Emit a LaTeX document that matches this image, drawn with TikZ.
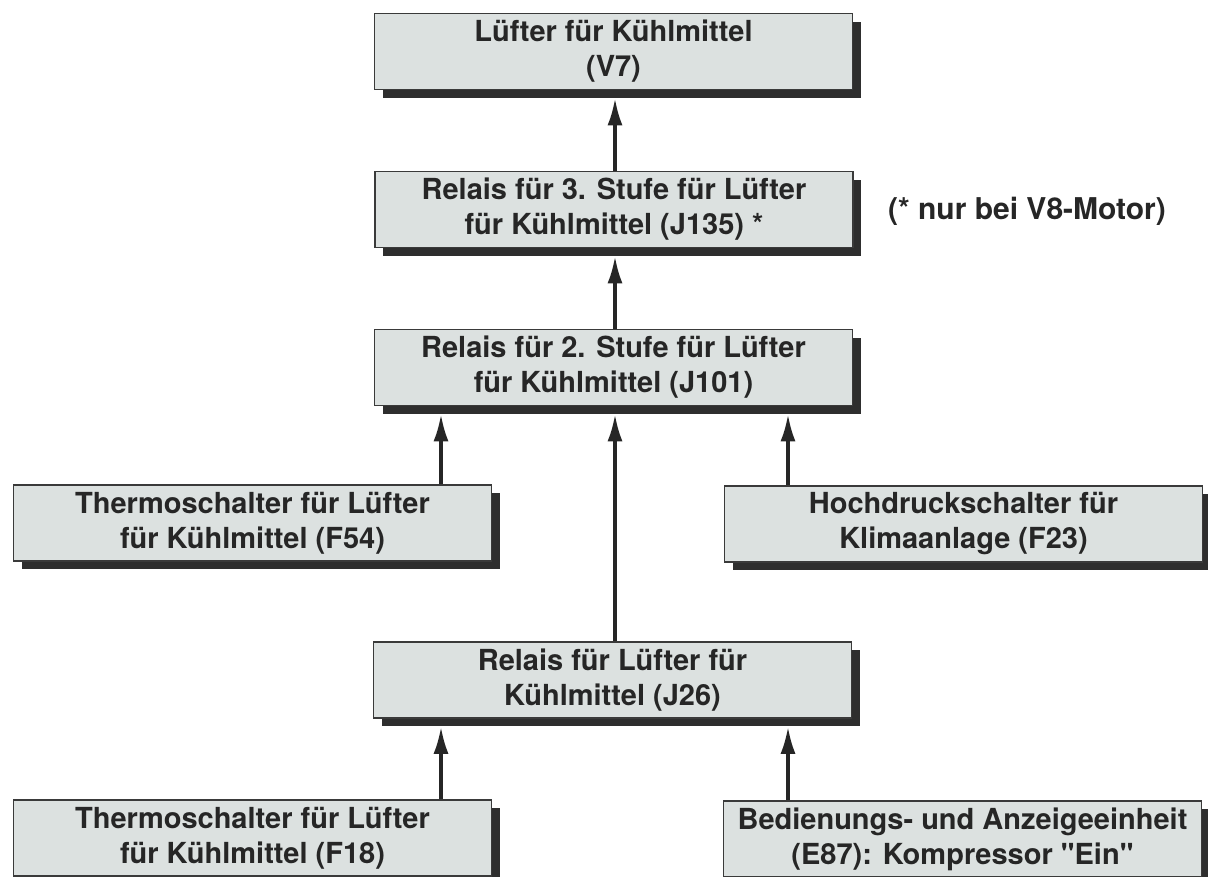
\documentclass[tikz,border=0pt]{standalone}
\usepackage{fontspec}
\setmainfont{TeX Gyre Heros}[Ligatures=TeXOff]
\usetikzlibrary{arrows.meta,shadows,calc}
\definecolor{boxfill}{HTML}{DCE1E0}
\definecolor{boxline}{HTML}{3A3A3A}
\definecolor{shadowc}{HTML}{2E2E2E}
\definecolor{txt}{HTML}{262626}
\tikzset{
  blk/.style={draw=boxline, line width=1.6pt, fill=boxfill,
    minimum width=478pt, minimum height=76pt, inner sep=0pt,
    align=center, text=txt,
    font=\fontsize{29}{35}\selectfont\bfseries,
    drop shadow={shadow xshift=8pt, shadow yshift=-8pt, fill=shadowc, opacity=1}},
  arr/.style={draw=txt, line width=3.2pt, -{Latex[length=27pt,width=15pt]}},
  note/.style={text=txt, font=\fontsize{30}{35}\selectfont\bfseries, inner sep=0pt}
}
\begin{document}
\begin{tikzpicture}[x=1pt,y=-1pt]
\useasboundingbox (0,0) rectangle (1208,876);
\node[blk] (v7)   at (613.5,51.5) {Lüfter für Kühlmittel\\(V7)};
\node[blk] (j135) at (614,209.5) {Relais für 3. Stufe für Lüfter\\für Kühlmittel (J135) *};
\node[blk] (j101) at (613.5,367.5) {Relais für 2. Stufe für Lüfter\\für Kühlmittel (J101)};
\node[blk] (f54)  at (252.5,523) {Thermoschalter für Lüfter\\für Kühlmittel (F54)};
\node[blk] (f23)  at (963.5,524) {Hochdruckschalter für\\Klimaanlage (F23)};
\node[blk] (j26)  at (612.5,680) {Relais für Lüfter für\\Kühlmittel (J26)};
\node[blk] (f18)  at (252.5,838) {Thermoschalter für Lüfter\\für Kühlmittel (F18)};
\node[blk] (e87)  at (962.5,839) {Bedienungs- und Anzeigeeinheit\\(E87): Kompressor "Ein"};
\node[note] (fn) at (1027,211) {(* nur bei V8-Motor)};
\coordinate (xl) at (441,0);
\coordinate (xm) at (615,0);
\coordinate (xr) at (788,0);
\draw[arr] (j135.north -| xm) -- ($(v7.south -| xm)+(0,8)$);
\draw[arr] (j101.north -| xm) -- ($(j135.south -| xm)+(0,8)$);
\draw[arr] (f54.north -| xl) -- ($(j101.south -| xl)+(0,8)$);
\draw[arr] (j26.north -| xm) -- ($(j101.south -| xm)+(0,8)$);
\draw[arr] (f23.north -| xr) -- ($(j101.south -| xr)+(0,8)$);
\draw[arr] (f18.north -| xl) -- ($(j26.south -| xl)+(0,8)$);
\draw[arr] (e87.north -| xr) -- ($(j26.south -| xr)+(0,8)$);
\end{tikzpicture}
\end{document}
